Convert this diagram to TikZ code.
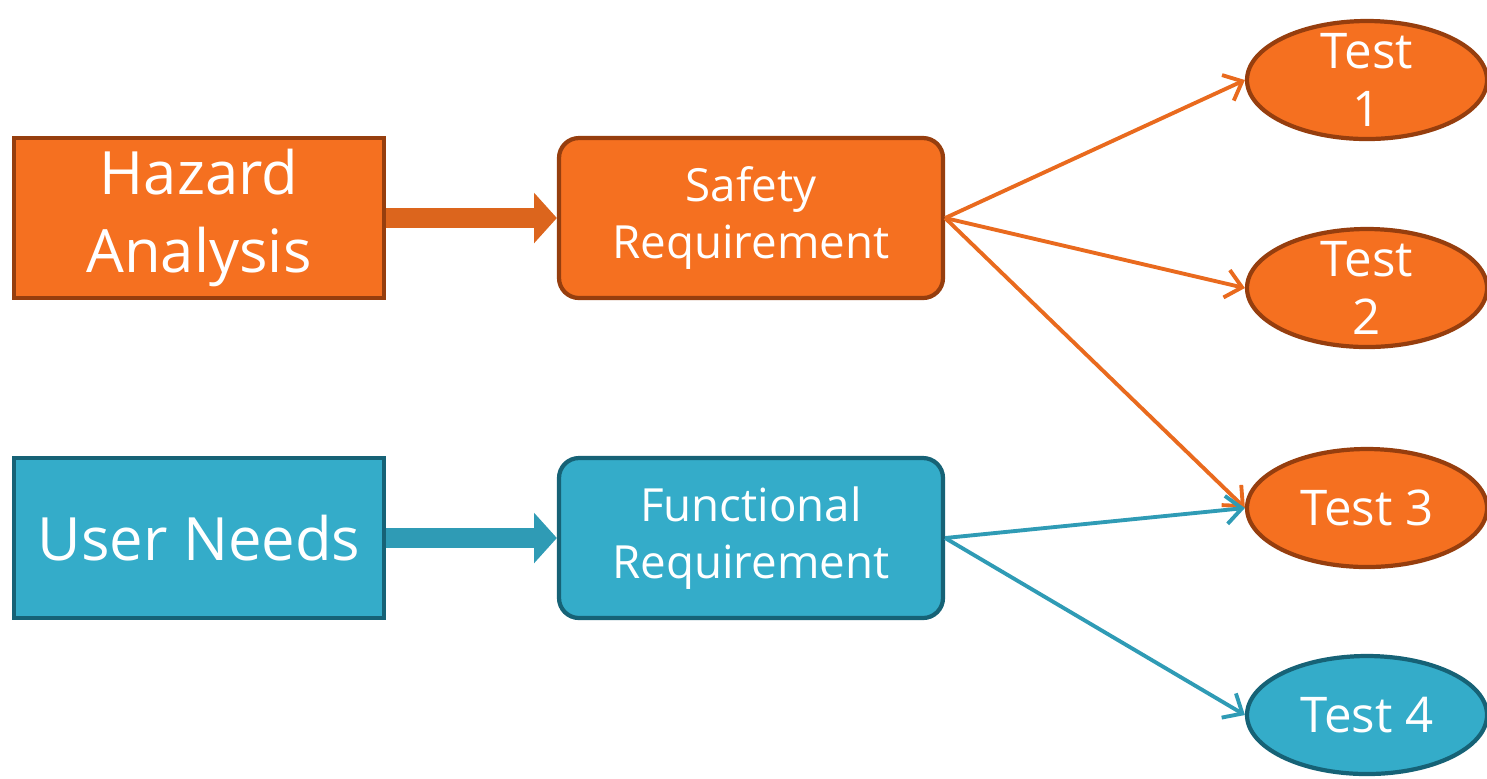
\documentclass[tikz,border=0pt]{standalone}
\usepackage{fontspec}
\setmainfont{Open Sans}
\usepackage{tikz}
\usetikzlibrary{shapes, arrows.meta, positioning}
\definecolor{hazorange}{RGB}{245,112,32}
\definecolor{hazedge}{RGB}{150,62,14}
\definecolor{needblue}{RGB}{52,172,201}
\definecolor{neededge}{RGB}{22,98,118}
\tikzstyle{sourcebox} = [rectangle, minimum width=3.70cm, minimum height=1.60cm, align=center, line width=1.2pt, text=white, font=\fontsize{17}{22}\selectfont]
\tikzstyle{reqbox} = [rectangle, rounded corners=0.2cm, minimum width=3.84cm, minimum height=1.60cm, align=center, line width=1.2pt, text=white, font=\fontsize{13}{16}\selectfont]
\tikzstyle{testnode} = [ellipse, minimum width=2.40cm, minimum height=1.18cm, inner sep=-6pt, align=center, line width=1.2pt, text=white, font=\fontsize{14}{16.5}\selectfont]
\tikzstyle{safetyfill} = [fill=hazorange, draw=hazedge]
\tikzstyle{userfill} = [fill=needblue, draw=neededge]

\begin{document}
\begin{tikzpicture}[node distance=4cm]
\useasboundingbox (0,0) rectangle (14.87,-7.78);
\node (hazard) [sourcebox, safetyfill] at (1.99,-2.18) {Hazard\\Analysis};
\node (safety) [reqbox, safetyfill, right of=hazard, xshift=1.52cm] {Safety\\Requirement};
\node (users) [sourcebox, userfill, below of=hazard, yshift=0.8cm] {User Needs};
\node (functional) [reqbox, userfill, right of=users, xshift=1.52cm] {Functional\\Requirement};
\node (test1) [testnode, safetyfill, right of=safety, xshift=2.16cm, yshift=1.38cm] {Test\\1};
\node (test2) [testnode, safetyfill, below of=test1, yshift=1.92cm] {Test\\2};
\node (test3) [testnode, safetyfill, below of=test2, yshift=1.8cm] {Test 3};
\node (test4) [testnode, userfill, below of=test3, yshift=1.93cm] {Test 4};
% block arrows into the requirements
\draw[line width=5.7pt, color=hazorange!90!black, -{Triangle[width=14pt, length=6.5pt]}] (hazard) -- (safety);
\draw[line width=5.7pt, color=needblue!90!black, -{Triangle[width=14pt, length=6.5pt]}] (users) -- (functional);
% requirements to tests
\draw[line width=1.1pt, color=hazorange!95!black, -{Straight Barb[length=4.5pt, width=8pt]}] (safety.east) -- (test1.west);
\draw[line width=1.1pt, color=hazorange!95!black, -{Straight Barb[length=4.5pt, width=8pt]}] (safety.east) -- (test2.west);
\draw[line width=1.1pt, color=hazorange!95!black, -{Straight Barb[length=4.5pt, width=8pt]}] (safety.east) -- (test3.west);
\draw[line width=1.1pt, color=needblue!90!black, -{Straight Barb[length=4.5pt, width=8pt]}] (functional.east) -- (test3.west);
\draw[line width=1.1pt, color=needblue!90!black, -{Straight Barb[length=4.5pt, width=8pt]}] (functional.east) -- (test4.west);
\end{tikzpicture}
\end{document}
